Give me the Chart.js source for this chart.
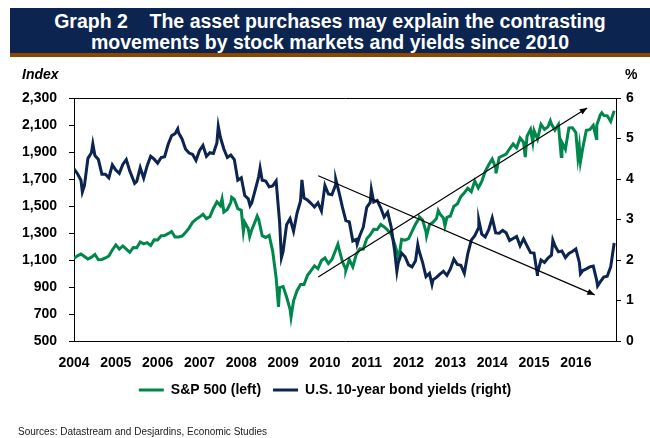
<!DOCTYPE html>
<html>
<head>
<meta charset="utf-8">
<script src="https://cdn.jsdelivr.net/npm/chart.js@4"></script>
<style>
  body { margin: 0; background: #fff; font-family: 'Liberation Sans', Arial, sans-serif; }
  #wrap { position: relative; width: 650px; height: 438px; }
  #title { position: absolute; left: 10px; top: 8px; width: 640px;
    background: #0b2450; border-bottom: 4px solid #8c4600; color: #fff; font-weight: bold;
    font-size: 19.5px; line-height: 21px; text-align: center; padding-top: 3px; height: 42px; }
  .axlab { position: absolute; top: 66px; font-weight: bold; font-size: 14px; }
  #source { position: absolute; left: 18px; top: 426px; font-size: 10px; color: #222; }
  canvas { position: absolute; left: 0; top: 0; }
</style>
</head>
<body>
<div id="wrap">
  <canvas id="chart" width="650" height="438"></canvas>
  <div id="title">Graph 2&nbsp;&nbsp;&nbsp;&nbsp;The asset purchases may explain the contrasting<br>movements by stock markets and yields since 2010</div>
  <div class="axlab" style="left:22px;font-style:italic;">Index</div>
  <div class="axlab" style="left:625px;">%</div>
  <div id="source">Sources: Datastream and Desjardins, Economic Studies</div>
</div>
<script>
// month-end values, first one = Dec 2003 (placed at 2004.0), last = Nov 2016
const START = 2004;
const spx = [1112,
  1131, 1145, 1126, 1107, 1121, 1141, 1102, 1104, 1115, 1130, 1174, 1212,
  1181, 1204, 1181, 1157, 1192, 1191, 1234, 1220, 1229, 1207, 1249, 1248,
  1280, 1281, 1295, 1311, 1270, 1270, 1277, 1304, 1336, 1378, 1401, 1418,
  1438, 1407, 1421, 1482, 1531, 1503, 1455, 1474, 1527, 1549, 1481, 1468,
  1379, 1331, 1323, 1386, 1400, 1280, 1267, 1283, 1166, 969, 896, 903,
  826, 735, 798, 873, 919, 919, 987, 1021, 1057, 1036, 1096, 1115,
  1074, 1104, 1169, 1187, 1089, 1031, 1102, 1049, 1141, 1183, 1181, 1258,
  1286, 1327, 1326, 1364, 1345, 1321, 1292, 1219, 1131, 1253, 1247, 1258,
  1312, 1366, 1408, 1398, 1310, 1362, 1379, 1407, 1441, 1412, 1416, 1426,
  1498, 1515, 1569, 1598, 1631, 1606, 1686, 1633, 1682, 1757, 1806, 1848,
  1783, 1859, 1872, 1884, 1924, 1960, 1931, 2003, 1972, 2018, 2068, 2059,
  1995, 2105, 2068, 2086, 2107, 2063, 2104, 1972, 1920, 2079, 2080, 2044,
  1940, 1932, 2060, 2065, 2097, 2099, 2174, 2171, 2168, 2126, 2205];
const yields = [4.25,
  4.13, 3.97, 3.84, 4.51, 4.65, 4.58, 4.48, 4.12, 4.12, 4.03, 4.35, 4.22,
  4.14, 4.36, 4.48, 4.20, 3.98, 3.94, 4.28, 4.02, 4.33, 4.56, 4.49, 4.39,
  4.53, 4.55, 4.85, 5.07, 5.12, 5.14, 4.99, 4.74, 4.64, 4.61, 4.46, 4.70,
  4.83, 4.56, 4.65, 4.63, 4.89, 5.03, 4.74, 4.53, 4.59, 4.48, 3.97, 4.03,
  3.59, 3.51, 3.41, 3.73, 4.06, 3.97, 3.95, 3.81, 3.83, 3.95, 2.93, 2.21,
  2.87, 3.02, 2.71, 3.16, 3.46, 3.53, 3.48, 3.40, 3.31, 3.41, 3.21, 3.84,
  3.63, 3.61, 3.84, 3.69, 3.31, 2.97, 2.94, 2.47, 2.51, 2.60, 2.81, 3.30,
  3.42, 3.43, 3.47, 3.29, 3.06, 3.18, 2.82, 2.23, 1.92, 2.17, 2.08, 1.88,
  1.83, 1.98, 2.23, 1.95, 1.59, 1.67, 1.51, 1.57, 1.65, 1.72, 1.62, 1.78,
  2.02, 1.89, 1.87, 1.67, 2.16, 2.49, 2.60, 2.78, 2.64, 2.57, 2.75, 3.04,
  2.67, 2.66, 2.73, 2.67, 2.48, 2.53, 2.58, 2.35, 2.52, 2.35, 2.18, 2.17,
  1.68, 2.00, 1.94, 2.05, 2.12, 2.35, 2.20, 2.22, 2.06, 2.16, 2.21, 2.27,
  1.94, 1.74, 1.78, 1.83, 1.85, 1.49, 1.46, 1.58, 1.60, 1.83, 2.42];

// intra-month highs and lows seen on the graph (decimal year)
const spxExtraX = [2007.54, 2007.77, 2008.05, 2008.20, 2008.38, 2008.89, 2009.19, 2010.31, 2010.50, 2011.76,
  2012.26, 2012.43, 2012.71, 2012.87, 2014.09, 2014.79, 2014.97, 2015.39, 2015.65, 2016.05, 2016.11, 2016.49, 2016.62];
const spxExtraY = [1553, 1565, 1310, 1273, 1426, 752, 677, 1217, 1022, 1099,
  1419, 1278, 1466, 1353, 1742, 1862, 1973, 2131, 1867, 1859, 1829, 2000, 2190];
const yldExtraX = [2004.20, 2004.45, 2005.45, 2006.48, 2007.45, 2008.21, 2008.45, 2008.96, 2009.45, 2010.26,
  2010.77, 2011.11, 2011.72, 2012.22, 2012.56, 2013.68, 2015.08, 2015.45, 2016.11, 2016.52];
const yldExtraY = [3.68, 4.87, 3.89, 5.24, 5.30, 3.34, 4.27, 2.06, 3.98, 3.99,
  2.39, 3.74, 1.72, 2.38, 1.40, 2.98, 1.64, 2.49, 1.66, 1.36];

// trend arrows: [x0, y0, x1, y1]
const upArrow = [2009.84, 974, 2016.27, 2226];     // S&P axis
const downArrow = [2009.84, 4.08, 2016.45, 1.14];  // yield axis

const years = [2004, 2005, 2006, 2007, 2008, 2009, 2010, 2011, 2012, 2013, 2014, 2015, 2016];
const seriesNames = ['S&P 500 (left)', 'U.S. 10-year bond yields (right)'];
const GREEN = '#00874b';
const NAVY = '#0b2450';

function buildSeries(vals, ex, ey) {
  const pts = vals.map((v, i) => ({ x: START + i / 12, y: v }));
  ex.forEach((x, i) => pts.push({ x: x, y: ey[i] }));
  return pts.sort((a, b) => a.x - b.x);
}

const arrowHeads = {
  id: 'arrowHeads',
  afterDatasetsDraw(chart) {
    const ctx = chart.ctx;
    [2, 3].forEach(di => {
      const pts = chart.getDatasetMeta(di).data;
      const a = pts[0], b = pts[1];
      const ang = Math.atan2(b.y - a.y, b.x - a.x);
      ctx.save();
      ctx.fillStyle = '#000';
      ctx.beginPath();
      ctx.moveTo(b.x, b.y);
      ctx.lineTo(b.x - 8 * Math.cos(ang - 0.4), b.y - 8 * Math.sin(ang - 0.4));
      ctx.lineTo(b.x - 8 * Math.cos(ang + 0.4), b.y - 8 * Math.sin(ang + 0.4));
      ctx.closePath();
      ctx.fill();
      ctx.restore();
    });
  }
};

Chart.defaults.font.family = "'Liberation Sans', Arial, sans-serif";
Chart.defaults.color = '#000';

const ctx = document.getElementById('chart').getContext('2d');
new Chart(ctx, {
  type: 'line',
  data: {
    datasets: [
      { label: seriesNames[0], data: buildSeries(spx, spxExtraX, spxExtraY), yAxisID: 'y',
        borderColor: GREEN, backgroundColor: GREEN, borderWidth: 3, pointRadius: 0, order: 3 },
      { label: seriesNames[1], data: buildSeries(yields, yldExtraX, yldExtraY), yAxisID: 'y1',
        borderColor: NAVY, backgroundColor: NAVY, borderWidth: 3, pointRadius: 0, order: 2 },
      { label: 'up', data: [{ x: upArrow[0], y: upArrow[1] }, { x: upArrow[2], y: upArrow[3] }], yAxisID: 'y',
        borderColor: '#000', borderWidth: 1.2, pointRadius: 0, order: 1 },
      { label: 'down', data: [{ x: downArrow[0], y: downArrow[1] }, { x: downArrow[2], y: downArrow[3] }], yAxisID: 'y1',
        borderColor: '#000', borderWidth: 1.2, pointRadius: 0, order: 1 }
    ]
  },
  options: {
    responsive: false,
    animation: false,
    layout: { padding: { top: 98, bottom: 31, left: 0, right: 0 } },
    plugins: {
      tooltip: { enabled: false },
      legend: {
        position: 'bottom',
        labels: {
          font: { size: 14, weight: 'bold' },
          boxWidth: 25, boxHeight: 3, padding: 12,
          filter: item => item.datasetIndex < 2,
          sort: (a, b) => a.datasetIndex - b.datasetIndex,
          generateLabels: chart => Chart.defaults.plugins.legend.labels.generateLabels(chart)
            .map(it => Object.assign(it, { lineWidth: 0 }))
        }
      }
    },
    scales: {
      x: {
        type: 'linear', position: 'bottom', min: 2004, max: 2016.96,
        afterFit: s => { s.height = 30; },
        afterBuildTicks: s => { s.ticks = years.map(v => ({ value: v })); },
        border: { color: '#000', width: 1 },
        grid: { drawOnChartArea: false, drawTicks: false },
        ticks: { autoSkip: false, maxRotation: 0, padding: 14,
          font: { size: 14, weight: 'bold' },
          callback: v => String(v) }
      },
      xTop: {
        type: 'linear', position: 'top', min: 2004, max: 2016.96,
        afterFit: s => { s.height = 0; },
        border: { color: '#000', width: 1 },
        grid: { drawOnChartArea: false, drawTicks: false },
        ticks: { display: false }
      },
      y: {
        position: 'left', min: 500, max: 2300,
        afterFit: s => { s.width = 74; },
        border: { color: '#000', width: 1 },
        grid: { drawOnChartArea: false, color: '#000', tickLength: 5 },
        ticks: { stepSize: 200, padding: 12, font: { size: 14, weight: 'bold' },
          callback: v => v.toLocaleString('en-US') }
      },
      y1: {
        position: 'right', min: 0, max: 6,
        afterFit: s => { s.width = 34; },
        border: { color: '#000', width: 1 },
        grid: { drawOnChartArea: false, color: '#000', tickLength: 5 },
        ticks: { stepSize: 1, padding: 5, font: { size: 14, weight: 'bold' } }
      }
    }
  },
  plugins: [arrowHeads]
});
</script>
</body>
</html>
